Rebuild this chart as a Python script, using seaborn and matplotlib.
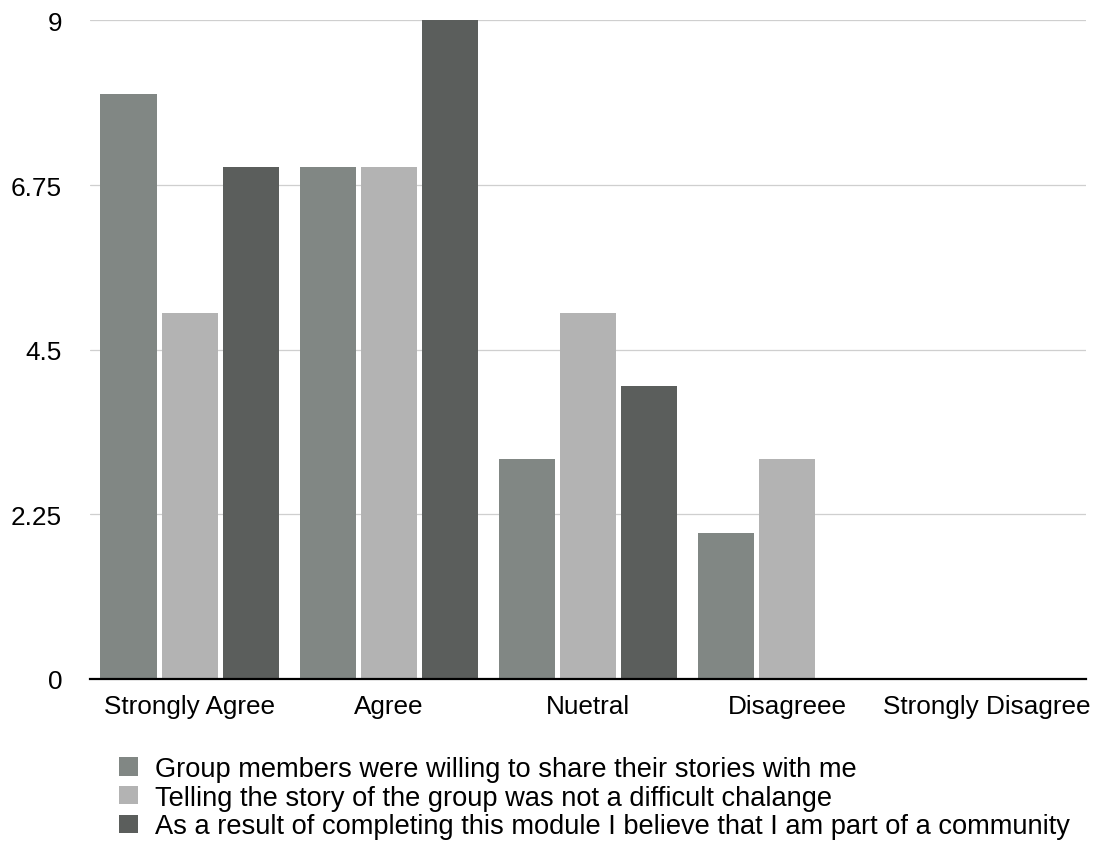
import matplotlib
matplotlib.use("Agg")
import matplotlib.pyplot as plt
import seaborn as sns
import pandas as pd
from matplotlib.patches import Patch

# Survey responses per answer category
categories = ["Strongly Agree", "Agree", "Nuetral", "Disagreee", "Strongly Disagree"]
series_names = [
    "Group members were willing to share their stories with me",
    "Telling the story of the group was not a difficult chalange",
    "As a result of completing this module I believe that I am part of a community",
]
share_stories = [8, 7, 3, 2, 0]
story_not_difficult = [5, 7, 5, 3, 0]
part_of_community = [7, 9, 4, 0, 0]
y_ticks = [0, 2.25, 4.5, 6.75, 9]
y_tick_labels = ["0", "2.25", "4.5", "6.75", "9"]
colors = ["#818784", "#b3b3b3", "#5b5e5c"]

rows = []
for name, vals in zip(series_names, [share_stories, story_not_difficult, part_of_community]):
    for cat, v in zip(categories, vals):
        rows.append({"category": cat, "series": name, "count": v})
df = pd.DataFrame(rows)

sns.set_theme(style="white")
plt.rcParams["font.family"] = ["Liberation Sans", "DejaVu Sans"]
plt.rcParams["text.color"] = "black"

FS = 18.8
LEGEND_FS = 19.6

fig = plt.figure(figsize=(10.95, 8.45), dpi=100)
ax = fig.add_axes([0.0822, 0.1953, 0.9096, 0.7793])

sns.barplot(
    data=df, x="category", y="count", hue="series",
    order=categories, hue_order=series_names, palette=colors,
    width=0.92, gap=0.08, saturation=1, legend=False, ax=ax,
    linewidth=0, edgecolor="none",
)

ax.set_xlim(-0.5, len(categories) - 0.5)
ax.set_ylim(0, 9)
ax.set_yticks(y_ticks)
ax.set_yticklabels(y_tick_labels)
ax.set_xlabel("")
ax.set_ylabel("")
ax.yaxis.grid(True, color="#cfcfcf", linewidth=0.9)
ax.set_axisbelow(True)
for side in ["left", "right", "top"]:
    ax.spines[side].set_visible(False)
ax.spines["bottom"].set_color("black")
ax.spines["bottom"].set_linewidth(1.6)
ax.spines["bottom"].set_zorder(5)
ax.tick_params(axis="y", length=0, pad=20, labelsize=FS, labelcolor="black")
ax.tick_params(axis="x", length=0, pad=10.5, labelsize=FS, labelcolor="black")

handles = [Patch(facecolor=c, edgecolor="none") for c in colors]
fig.legend(
    handles, series_names, loc="upper left",
    bbox_to_anchor=(0.1087, 0.1044), frameon=False, fontsize=LEGEND_FS,
    labelcolor="black",
    handlelength=0.68, handleheight=0.68, handletextpad=0.63,
    labelspacing=0.105, borderpad=0, borderaxespad=0,
)

fig.savefig("out.png", dpi=100)
